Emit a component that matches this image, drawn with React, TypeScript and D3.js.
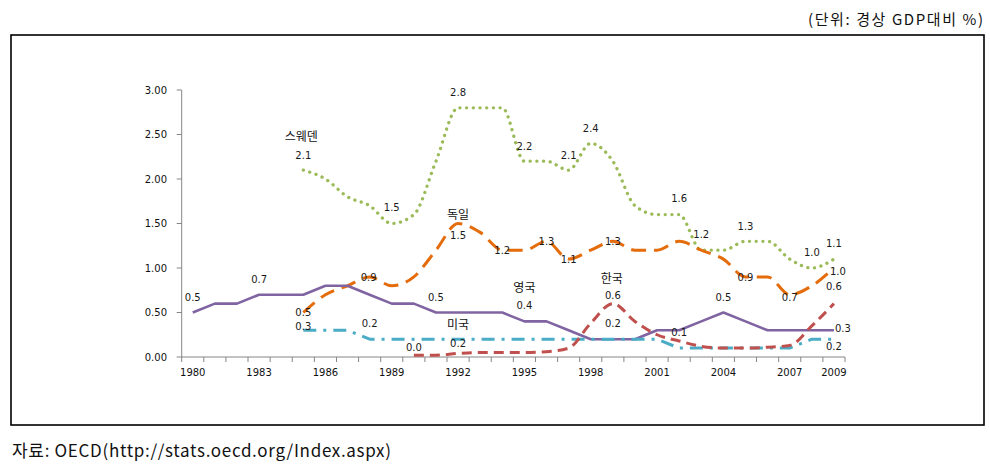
import React from "react";
import * as d3 from "d3";

// ---------- data ----------
const YEARS: number[] = d3.range(1980, 2010);
const X_TICK_LABELS = [1980, 1983, 1986, 1989, 1992, 1995, 1998, 2001, 2004, 2007, 2009];
const Y_TICKS = [0, 0.5, 1.0, 1.5, 2.0, 2.5, 3.0];

// Sweden 1985-2009
const SWEDEN = [2.1, 2.0, 1.8, 1.7, 1.5, 1.6, 2.2, 2.8, 2.8, 2.8, 2.2, 2.2, 2.1, 2.4, 2.2, 1.7, 1.6, 1.6, 1.2, 1.2, 1.3, 1.3, 1.1, 1.0, 1.1];
// Germany 1985-2009
const GERMANY = [0.5, 0.7, 0.8, 0.9, 0.8, 0.9, 1.2, 1.5, 1.4, 1.2, 1.2, 1.3, 1.1, 1.2, 1.3, 1.2, 1.2, 1.3, 1.2, 1.1, 0.9, 0.9, 0.7, 0.8, 1.0];
// UK 1980-2009
const UK = [0.5, 0.6, 0.6, 0.7, 0.7, 0.7, 0.8, 0.8, 0.7, 0.6, 0.6, 0.5, 0.5, 0.5, 0.5, 0.4, 0.4, 0.3, 0.2, 0.2, 0.2, 0.3, 0.3, 0.4, 0.5, 0.4, 0.3, 0.3, 0.3, 0.3];
// USA 1985-2009
const USA = [0.3, 0.3, 0.3, 0.2, 0.2, 0.2, 0.2, 0.2, 0.2, 0.2, 0.2, 0.2, 0.2, 0.2, 0.2, 0.2, 0.2, 0.1, 0.1, 0.1, 0.1, 0.1, 0.1, 0.2, 0.2];
// Korea 1990-2009
const KOREA = [0.02, 0.02, 0.04, 0.05, 0.05, 0.05, 0.06, 0.1, 0.38, 0.6, 0.4, 0.25, 0.18, 0.12, 0.1, 0.1, 0.11, 0.13, 0.35, 0.6];

const SERIES_NAMES = ["스웨덴", "독일", "영국", "미국", "한국"];
const SERIES_START = [1985, 1985, 1980, 1985, 1990];
const SERIES_VALUES = [SWEDEN, GERMANY, UK, USA, KOREA];

// which years carry a data label, per series
const LABEL_YEARS = [
  [1985, 1989, 1992, 1995, 1997, 1998, 2002, 2003, 2005, 2008, 2009],
  [1985, 1988, 1992, 1994, 1996, 1997, 1999, 2005, 2007, 2009],
  [1980, 1983, 1991, 1995, 2004, 2009],
  [1985, 1988, 1992, 1999, 2002, 2009],
  [1990, 1999, 2009],
];
const NAME_YEARS = [1985, 1992, 1995, 1992, 1999];

const HEADER = "(단위: 경상 GDP대비 %)";
const FOOTER = "자료: OECD(http://stats.oecd.org/Index.aspx)";

// ---------- styles / placement ----------
const STYLES = [
  { color: "#9BBB59", dash: "0.1,6.6", width: 3.3, cap: "round", smooth: true },
  { color: "#E46C0A", dash: "15,8", width: 3, cap: "butt", smooth: true },
  { color: "#8064A2", dash: "", width: 2.6, cap: "butt", smooth: false },
  { color: "#4BACC6", dash: "13,7,3,7", width: 3, cap: "butt", smooth: false },
  { color: "#C0504D", dash: "10,6", width: 3, cap: "butt", smooth: true },
];
// label offsets (dx, dy) per label, same order as LABEL_YEARS
const LABEL_OFFSETS: [number, number][][] = [
  [[0, -15], [0, -16], [0, -15], [0, -15], [0, -15], [0, -15], [0, -16], [0, -16], [0, -15], [0, -16], [0, -16]],
  [[0, 0], [-1, 0], [0, 12], [0, 0], [0, 0], [0, 0], [0, 0], [0, 0], [0, 3], [4, 3]],
  [[0, -15], [0, -15], [0, -15], [0, -16], [0, -15], [9, -2]],
  [[0, -4], [0, -16], [0, 4], [0, -16], [0, -16], [0, 7]],
  [[0, -8], [0, -8], [0, -17]],
];
const NAME_OFFSETS: [number, number][] = [[-2, -33], [0, -9], [0, -34], [0, -15], [-1, -25]];

const W = 990;
const H = 471;
const X0 = 181.7;
const X1 = 845;
const Y0 = 357;
const Y1 = 90;

export default function App() {
  const x = d3.scaleBand<number>().domain(YEARS).range([X0, X1]).padding(0);
  const bw = x.bandwidth();
  const cx = (yr: number) => (x(yr) as number) + bw / 2;
  const y = d3.scaleLinear().domain([0, 3]).range([Y0, Y1]);
  const fmt1 = d3.format(".1f");
  const fmt2 = d3.format(".2f");

  const series = SERIES_NAMES.map((name, i) => {
    const pts = SERIES_VALUES[i].map((v, k) => ({ year: SERIES_START[i] + k, v }));
    return { name, pts, style: STYLES[i], i };
  });

  const valueAt = (i: number, yr: number) => SERIES_VALUES[i][yr - SERIES_START[i]];

  const labelFont = "'DejaVu Sans', Verdana, sans-serif";
  const krFont = "'Noto Sans CJK KR', sans-serif";

  return (
    <svg
      width={W}
      height={H}
      style={{ position: "absolute", left: 0, top: 0, background: "#fff" }}
    >
      <rect x={0} y={0} width={W} height={H} fill="#fff" />
      <text
        x={983}
        y={25}
        textAnchor="end"
        fontFamily={krFont}
        fontSize={15}
        fill="#111"
        textLength={175}
        lengthAdjust="spacing"
      >
        {HEADER}
      </text>
      <rect x={11} y={35} width={973} height={390} fill="none" stroke="#000" strokeWidth={1.6} />

      {/* axes */}
      <g stroke="#868686" strokeWidth={1} fill="none">
        <line x1={X0} x2={X0} y1={Y1} y2={Y0} />
        <line x1={X0} x2={X1} y1={Y0} y2={Y0} />
        {Y_TICKS.map((t) => (
          <line key={"yt" + t} x1={X0 - 5} x2={X0} y1={y(t)} y2={y(t)} />
        ))}
        {YEARS.concat([2010]).map((yr) => {
          const xx = yr === 2010 ? X1 : (x(yr) as number);
          return <line key={"xt" + yr} x1={xx} x2={xx} y1={Y0} y2={Y0 + 5} />;
        })}
      </g>
      <g fontFamily={labelFont} fontSize={10} fill="#111">
        {Y_TICKS.map((t) => (
          <text key={"yl" + t} x={167} y={y(t) + 3.5} textAnchor="end">
            {fmt2(t)}
          </text>
        ))}
        {X_TICK_LABELS.map((yr) => (
          <text key={"xl" + yr} x={cx(yr)} y={Y0 + 19} textAnchor="middle">
            {yr}
          </text>
        ))}
      </g>

      {/* lines */}
      {series.map((s) => {
        const line = d3
          .line<{ year: number; v: number }>()
          .x((d) => cx(d.year))
          .y((d) => y(d.v))
          .curve(s.style.smooth ? d3.curveMonotoneX : d3.curveLinear);
        return (
          <path
            key={s.name}
            d={line(s.pts) || ""}
            fill="none"
            stroke={s.style.color}
            strokeWidth={s.style.width}
            strokeDasharray={s.style.dash || undefined}
            strokeLinecap={s.style.cap as any}
            strokeLinejoin="round"
          />
        );
      })}

      {/* data labels */}
      <g fontFamily={labelFont} fontSize={10} fill="#1a1a1a">
        {LABEL_YEARS.map((yrs, i) =>
          yrs.map((yr, k) => {
            const v = valueAt(i, yr);
            const [dx, dy] = LABEL_OFFSETS[i][k];
            return (
              <text
                key={"dl" + i + "-" + yr}
                x={cx(yr) + dx}
                y={y(v) + dy + 3.6}
                textAnchor="middle"
              >
                {fmt1(v)}
              </text>
            );
          })
        )}
      </g>

      {/* series names */}
      <g fontFamily={krFont} fontSize={12} fill="#111">
        {SERIES_NAMES.map((n, i) => {
          const yr = NAME_YEARS[i];
          const [dx, dy] = NAME_OFFSETS[i];
          return (
            <text key={"nm" + n} x={cx(yr) + dx} y={y(valueAt(i, yr)) + dy + 4.3} textAnchor="middle">
              {n}
            </text>
          );
        })}
      </g>

      <text
        x={12}
        y={457}
        fontFamily={krFont}
        fontSize={17}
        fill="#111"
        textLength={379}
        lengthAdjust="spacing"
      >
        {FOOTER}
      </text>
    </svg>
  );
}
